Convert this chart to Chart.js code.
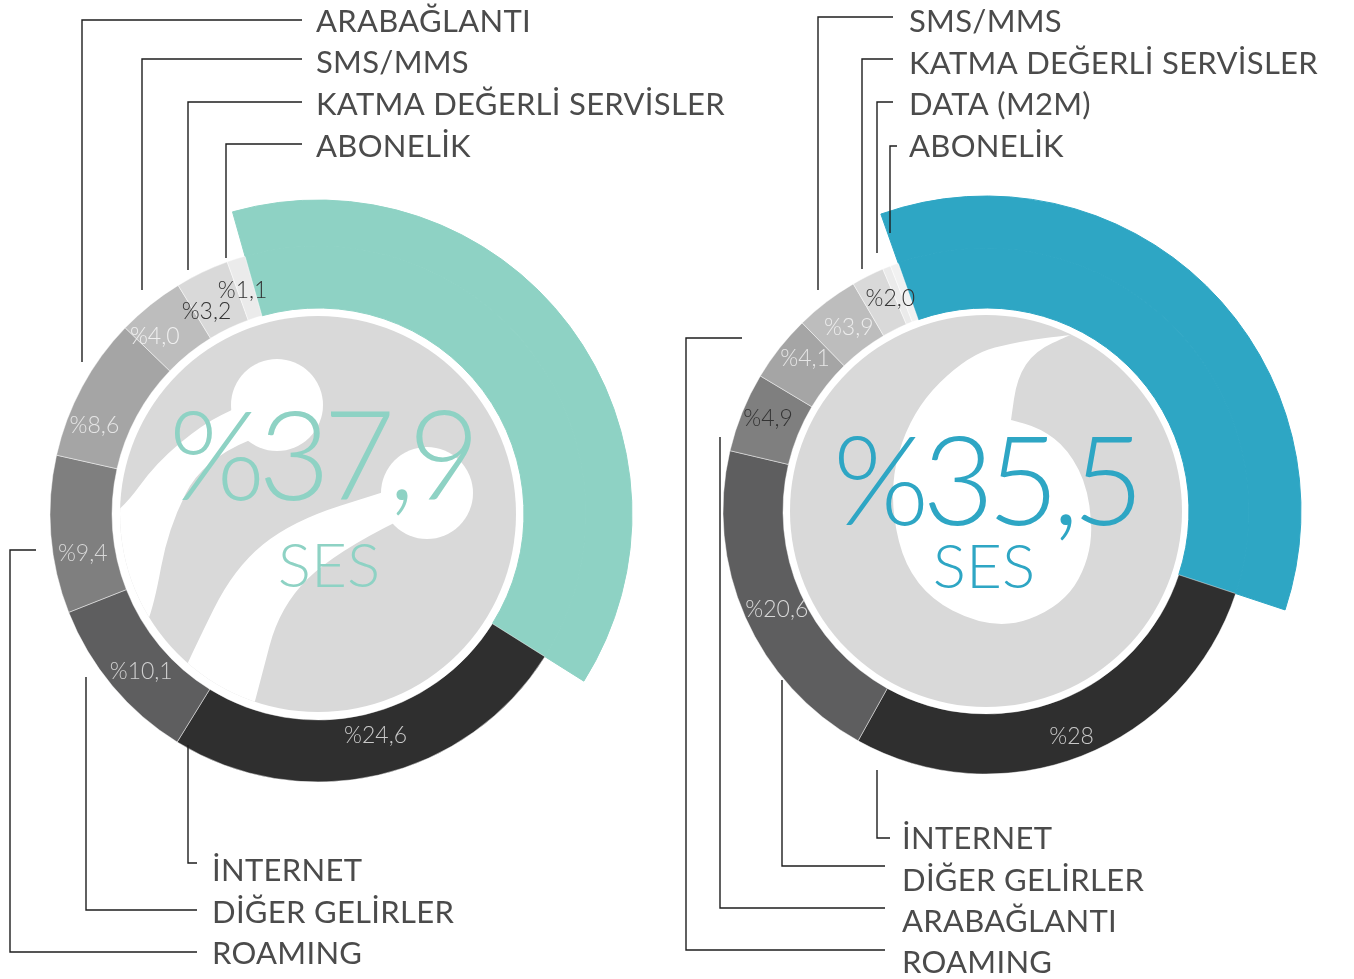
<!DOCTYPE html>
<html lang="tr">
<head>
<meta charset="utf-8">
<title>Gelir dağılımı</title>
<script src="https://cdn.jsdelivr.net/npm/chart.js@4.4.1/dist/chart.umd.min.js"></script>
<style>
  html, body { margin: 0; padding: 0; background: #fff; }
  body { width: 1354px; height: 979px; position: relative; overflow: hidden; }
  canvas { position: absolute; left: 0; top: 0; }
</style>
</head>
<body>
<canvas id="leftChart" width="1354" height="979"></canvas>
<canvas id="rightChart" width="1354" height="979"></canvas>
<script>
// gelir kalemleri, saat yönünde SES'ten başlayarak
const leftCategories = ['SES', 'İNTERNET', 'DİĞER GELİRLER', 'ROAMING', 'ARABAĞLANTI', 'SMS/MMS', 'KATMA DEĞERLİ SERVİSLER', 'ABONELİK'];
const leftShares = [37.9, 24.6, 10.1, 9.4, 8.6, 4.0, 3.2, 1.1];
const leftShareLabels = ['%37,9', '%24,6', '%10,1', '%9,4', '%8,6', '%4,0', '%3,2', '%1,1'];

const rightCategories = ['SES', 'İNTERNET', 'DİĞER GELİRLER', 'ARABAĞLANTI', 'ROAMING', 'SMS/MMS', 'KATMA DEĞERLİ SERVİSLER', 'DATA (M2M)', 'ABONELİK'];
const rightShares = [35.5, 28, 20.6, 4.9, 4.1, 3.9, 2.0, 0.5, 0.5];
const rightShareLabels = ['%35,5', '%28', '%20,6', '%4,9', '%4,1', '%3,9', '%2,0', '', ''];

// styles
const greys = ['#2f2f2f', '#5e5e5f', '#7f7f7f', '#a5a5a5', '#bdbdbd', '#d9d9d9', '#ebebeb', '#f1f1f1'];
const FONT = 'Lato, "Open Sans", sans-serif';

function smoothPath(ctx, pts, cx, cy, start) {
  if (start) ctx.moveTo(cx + pts[0][0], cy + pts[0][1]);
  else ctx.lineTo(cx + pts[0][0], cy + pts[0][1]);
  for (let i = 1; i < pts.length - 1; i++) {
    const mx = (pts[i][0] + pts[i + 1][0]) / 2, my = (pts[i][1] + pts[i + 1][1]) / 2;
    ctx.quadraticCurveTo(cx + pts[i][0], cy + pts[i][1], cx + mx, cy + my);
  }
  const last = pts[pts.length - 1];
  ctx.lineTo(cx + last[0], cy + last[1]);
}

function closedSmooth(ctx, pts, cx, cy) {
  const n = pts.length;
  const mid = (a, b) => [(a[0] + b[0]) / 2, (a[1] + b[1]) / 2];
  const m0 = mid(pts[n - 1], pts[0]);
  ctx.moveTo(cx + m0[0], cy + m0[1]);
  for (let i = 0; i < n; i++) {
    const p = pts[i], m = mid(p, pts[(i + 1) % n]);
    ctx.quadraticCurveTo(cx + p[0], cy + p[1], cx + m[0], cy + m[1]);
  }
  ctx.closePath();
}

function leftLogo(ctx, cx, cy) {
  ctx.fillStyle = '#fff';
  ctx.beginPath();
  smoothPath(ctx, [[-213, 6], [-195, -5], [-162, -51], [-115, -90], [-78, -108]], cx, cy, true);
  smoothPath(ctx, [[-68, -74], [-115, -55], [-150, 15], [-164, 92], [-178, 126]], cx, cy, false);
  ctx.closePath();
  ctx.fill();
  ctx.beginPath();
  smoothPath(ctx, [[-138, 166], [-125, 137], [-84, 54], [-26, 7], [72, -24]], cx, cy, true);
  smoothPath(ctx, [[82, 6], [17, 38], [-38, 92], [-59, 172], [-68, 206]], cx, cy, false);
  ctx.closePath();
  ctx.fill();
  ctx.beginPath(); ctx.arc(cx - 41, cy - 109, 46, 0, Math.PI * 2); ctx.fill();
  ctx.beginPath(); ctx.arc(cx + 109, cy - 21, 46, 0, Math.PI * 2); ctx.fill();
}

function rightLogo(ctx, cx, cy) {
  ctx.fillStyle = '#fff';
  ctx.beginPath();
  closedSmooth(ctx, [[84, -176], [84, -176], [35, -170], [-17, -157], [-75, -100], [-99, -17], [-75, 78],
    [8, 121], [78, 95], [107, 41], [103, -21], [82, -62], [54, -83], [25, -91], [25, -91],
    [31, -133], [49, -160]], cx, cy);
  ctx.fill();
}

function makeDecor(cfg) {
  return {
    id: 'decor',
    beforeDatasetsDraw(chart) {
      const ctx = chart.ctx;
      const el = chart.getDatasetMeta(1).data[0];
      const cx = el.x, cy = el.y;
      ctx.save();
      ctx.beginPath();
      ctx.arc(cx, cy, cfg.discRadius, 0, Math.PI * 2);
      ctx.fillStyle = '#d9d9d9';
      ctx.fill();
      ctx.clip();
      cfg.logo(ctx, cx, cy);
      ctx.restore();
    },
    afterDatasetsDraw(chart) {
      const ctx = chart.ctx;
      const meta = chart.getDatasetMeta(1);
      const cx = meta.data[0].x, cy = meta.data[0].y;
      ctx.save();
      // yüzde etiketleri
      ctx.font = '300 23px ' + FONT;
      ctx.textAlign = 'center';
      ctx.textBaseline = 'middle';
      meta.data.forEach((arc, i) => {
        if (i === 0 || !cfg.shareLabels[i]) return;
        const p = arc.getProps(['x', 'y', 'startAngle', 'endAngle', 'innerRadius', 'outerRadius'], true);
        const a = (p.startAngle + p.endAngle) / 2;
        const r = (p.innerRadius + p.outerRadius) / 2;
        const nudge = cfg.labelNudge[i] || [0, 0];
        ctx.fillStyle = cfg.labelColors[i];
        ctx.fillText(cfg.shareLabels[i], p.x + Math.cos(a) * r + nudge[0], p.y + Math.sin(a) * r + nudge[1]);
      });
      // merkez
      ctx.fillStyle = cfg.accent;
      ctx.font = '300 124px ' + FONT;
      ctx.letterSpacing = '-7px';
      ctx.fillText(cfg.shareLabels[0], cx + cfg.bigOffset[0], cy + cfg.bigOffset[1]);
      ctx.letterSpacing = '0px';
      ctx.font = '300 62px ' + FONT;
      ctx.fillText(cfg.categories[0], cx + cfg.sesOffset[0], cy + cfg.sesOffset[1]);
      // çizgiler ve kategori adları
      ctx.strokeStyle = '#1e1e1e';
      ctx.lineWidth = 1.4;
      ctx.textAlign = 'left';
      ctx.font = '400 31px ' + FONT;
      ctx.letterSpacing = '0.3px';
      ctx.fillStyle = '#4b4b4b';
      cfg.leaders.forEach(ld => {
        ctx.beginPath();
        ld.path.forEach((pt, k) => k ? ctx.lineTo(pt[0], pt[1]) : ctx.moveTo(pt[0], pt[1]));
        ctx.stroke();
        ctx.fillText(cfg.categories[ld.idx], ld.text[0], ld.text[1]);
      });
      ctx.restore();
    }
  };
}

function buildChart(id, cfg) {
  const ringColors = cfg.categories.map((c, i) => i === 0 ? cfg.accent : greys[i - 1]);
  return new Chart(document.getElementById(id), {
    type: 'doughnut',
    data: {
      labels: cfg.categories,
      datasets: [
        {
          data: cfg.shares,
          weight: cfg.bandWeight,
          backgroundColor: cfg.categories.map((c, i) => i === 0 ? cfg.accent : 'rgba(0,0,0,0)'),
          borderColor: cfg.accent,
          borderWidth: cfg.categories.map((c, i) => i === 0 ? 1 : 0)
        },
        {
          data: cfg.shares,
          weight: cfg.ringWeight,
          backgroundColor: ringColors,
          borderColor: cfg.categories.map((c, i) => i === 0 ? cfg.accent : 'rgba(255,255,255,0.45)'),
          borderWidth: 1
        }
      ]
    },
    options: {
      responsive: false,
      animation: false,
      events: [],
      rotation: cfg.rotation,
      radius: cfg.radius,
      cutout: cfg.cutout,
      layout: { padding: cfg.padding },
      plugins: { legend: { display: false }, tooltip: { enabled: false } }
    },
    plugins: [makeDecor(cfg)]
  });
}

const leftCfg = {
  categories: leftCategories, shares: leftShares, shareLabels: leftShareLabels,
  accent: '#8ed2c4',
  labelColors: [null, '#c9c9c9', '#d0d0d0', '#d8d8d8', '#e6e6e6', '#f0f0f0', '#333333', '#333333'],
  labelNudge: [null, [4, -9], [5, 6], [1, 21], [-15, 24], [-15, 7], [-9, 11], [-3, 2]],
  rotation: -15.8, radius: 314, cutout: (206 / 314 * 100) + '%', bandWeight: 46, ringWeight: 62,
  padding: { left: 0, right: 718, top: 100, bottom: 51 },
  discRadius: 198, logo: leftLogo,
  bigOffset: [3, -54], sesOffset: [11, 53],
  leaders: [
    { idx: 4, path: [[82, 362], [82, 20], [302, 20]], text: [316, 22] },
    { idx: 5, path: [[142, 290], [142, 59], [302, 59]], text: [316, 63] },
    { idx: 6, path: [[188, 270], [188, 102], [302, 102]], text: [316, 105] },
    { idx: 7, path: [[226, 258], [226, 144], [302, 144]], text: [316, 147] },
    { idx: 1, path: [[188, 745], [188, 863], [197, 863]], text: [212, 871] },
    { idx: 2, path: [[86, 677], [86, 910], [197, 910]], text: [212, 913] },
    { idx: 3, path: [[36, 550], [10, 550], [10, 952], [197, 952]], text: [212, 954] }
  ]
};

const rightCfg = {
  categories: rightCategories, shares: rightShares, shareLabels: rightShareLabels,
  accent: '#2ea6c4',
  labelColors: [null, '#c9c9c9', '#d8d8d8', '#333333', '#e6e6e6', '#ededed', '#333333', '#333333', '#333333'],
  labelNudge: [null, [1, 8], [4, 4], [-2, -5], [2, -8], [4, 2], [9, -4]],
  rotation: -19.5, radius: 315, cutout: (203 / 315 * 100) + '%', bandWeight: 52, ringWeight: 60,
  padding: { left: 700, right: 82, top: 100, bottom: 57 },
  discRadius: 196, logo: rightLogo,
  bigOffset: [-1, -26], sesOffset: [-2, 57],
  leaders: [
    { idx: 5, path: [[818, 290], [818, 17], [893, 17]], text: [909, 22] },
    { idx: 6, path: [[862, 269], [862, 59], [893, 59]], text: [909, 64] },
    { idx: 7, path: [[877, 253], [877, 102], [893, 102]], text: [909, 105] },
    { idx: 8, path: [[890, 233], [890, 146], [897, 146]], text: [909, 147] },
    { idx: 1, path: [[877, 770], [877, 838], [890, 838]], text: [902, 839] },
    { idx: 2, path: [[782, 680], [782, 866], [885, 866]], text: [902, 881] },
    { idx: 3, path: [[720, 437], [720, 908], [885, 908]], text: [902, 922] },
    { idx: 4, path: [[742, 338], [686, 338], [686, 950], [885, 950]], text: [902, 963] }
  ]
};

buildChart('leftChart', leftCfg);
buildChart('rightChart', rightCfg);
</script>
</body>
</html>
